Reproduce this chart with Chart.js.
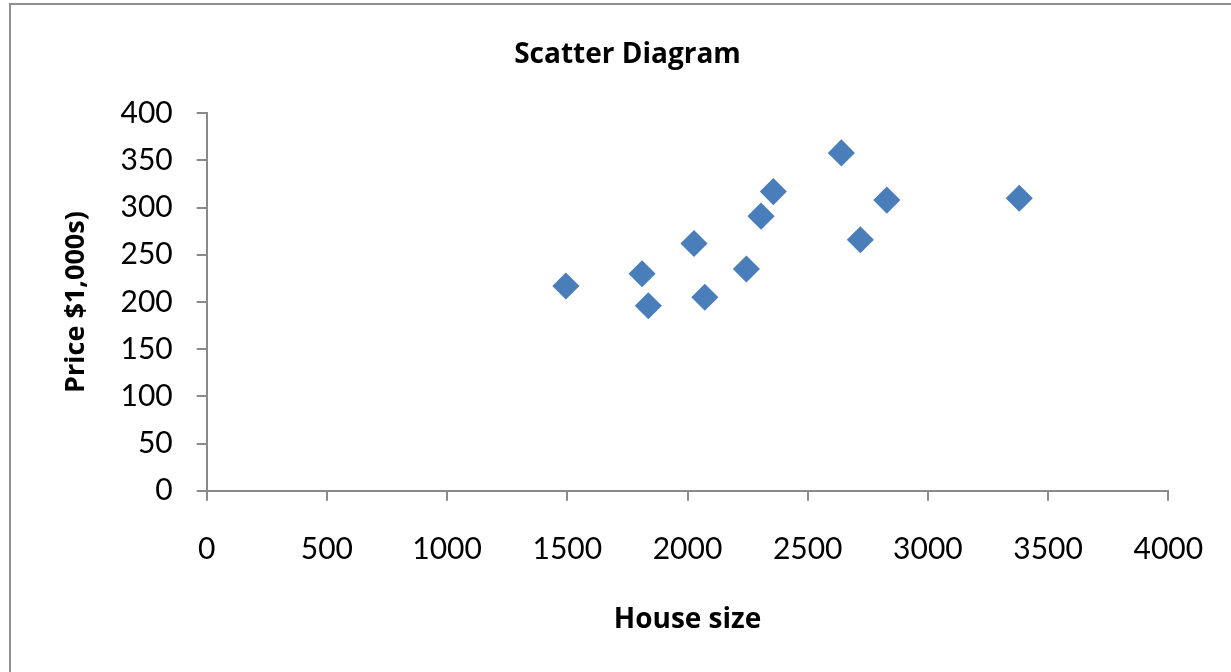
<!DOCTYPE html>
<html>
<head>
<meta charset="utf-8">
<script src="https://cdn.jsdelivr.net/npm/chart.js@4/dist/chart.umd.min.js"></script>
<style>
  html, body { margin: 0; padding: 0; background: #fff; overflow: hidden; }
  #wrap { position: relative; width: 1231px; height: 672px; overflow: hidden; }
  #frame { position: absolute; left: 9px; top: 3px; width: 1260px; height: 720px;
           border-top: 2px solid #8f8f8f; border-left: 2px solid #8f8f8f; }
  #c { position: absolute; left: 0; top: 0; }
</style>
</head>
<body>
<div id="wrap">
  <div id="frame"></div>
  <canvas id="c" width="1231" height="672"></canvas>
</div>
<script>
// House size (sq ft) against price ($1,000s)
const houseSize = [1494, 1811, 1837, 2027, 2072, 2245, 2306, 2357, 2640, 2719, 2829, 3380];
const price     = [217,  230,  196,  262,  205,  235,  291,  317,  358,  266,  308,  310];

const xTickValues = [0, 500, 1000, 1500, 2000, 2500, 3000, 3500, 4000];
const yTickValues = [0, 50, 100, 150, 200, 250, 300, 350, 400];

const chartTitle = 'Scatter Diagram';
const xTitle = 'House size';
const yTitle = 'Price $1,000s)';

const points = houseSize.map((x, i) => ({ x: x, y: price[i] }));

const TICK_FONT = 'Lato, "Open Sans", sans-serif';
const TITLE_FONT = '"Open Sans", Lato, sans-serif';
const AXIS_GREY = '#8a8a8a';

function fixedTicks(values) {
  return function (scale) {
    scale.ticks = values.map(v => ({ value: v }));
  };
}
const plainNumber = v => String(v);

new Chart(document.getElementById('c'), {
  type: 'scatter',
  data: {
    datasets: [{
      data: points,
      pointStyle: 'rectRot',
      pointRadius: 12.5,
      pointHoverRadius: 12.5,
      backgroundColor: '#4a7ebb',
      borderColor: '#4a7ebb',
      borderWidth: 1.5,
      yAxisID: 'y'
    }]
  },
  options: {
    responsive: false,
    animation: false,
    devicePixelRatio: 1,
    layout: { padding: { left: 24, right: 0, top: 0, bottom: 0 } },
    plugins: {
      legend: { display: false },
      tooltip: { enabled: false },
      title: {
        display: true,
        text: chartTitle,
        color: '#000',
        font: { family: TITLE_FONT, size: 28, weight: 'bold', lineHeight: 1.2 },
        padding: { top: 38.2, bottom: 41.5 }
      }
    },
    scales: {
      x: {
        type: 'linear',
        position: 'bottom',
        min: 0,
        max: 4000,
        afterBuildTicks: fixedTicks(xTickValues),
        afterFit: s => {
          s.height = 181.3;
          // the label gap below the axis should not widen the side margins
          s.paddingLeft = 0;
          s.paddingRight = 0;
        },
        grid: { drawOnChartArea: false, drawTicks: true, tickLength: 10, color: AXIS_GREY, lineWidth: 2 },
        border: { display: true, color: AXIS_GREY, width: 2 },
        ticks: { color: '#000', padding: 31, maxRotation: 0, callback: plainNumber,
                 font: { family: TICK_FONT, size: 30 } },
        title: {
          display: true,
          text: xTitle,
          color: '#000',
          font: { family: TITLE_FONT, size: 28, weight: 'bold', lineHeight: 1.2 },
          padding: { top: 0, bottom: 35.2 }
        }
      },
      y: {
        type: 'linear',
        position: 'left',
        min: 0,
        max: 400,
        afterBuildTicks: fixedTicks(yTickValues),
        afterFit: s => { s.width = 182.7; },
        grid: { drawOnChartArea: false, drawTicks: true, tickLength: 10, color: AXIS_GREY, lineWidth: 2 },
        border: { display: true, color: AXIS_GREY, width: 2 },
        ticks: { color: '#000', padding: 24, callback: plainNumber,
                 font: { family: TICK_FONT, size: 30 } },
        title: {
          display: true,
          text: yTitle,
          color: '#000',
          font: { family: TITLE_FONT, size: 27, weight: 'bold', lineHeight: 1.2 },
          padding: { top: 35.8, bottom: 0 }
        }
      },
      // empty right-hand margin that keeps the plot area clear of the frame edge
      yRight: {
        type: 'linear',
        position: 'right',
        display: true,
        afterFit: s => { s.width = 62.7; },
        grid: { display: false, drawTicks: false },
        border: { display: false },
        ticks: { display: false }
      }
    }
  }
});
</script>
</body>
</html>
